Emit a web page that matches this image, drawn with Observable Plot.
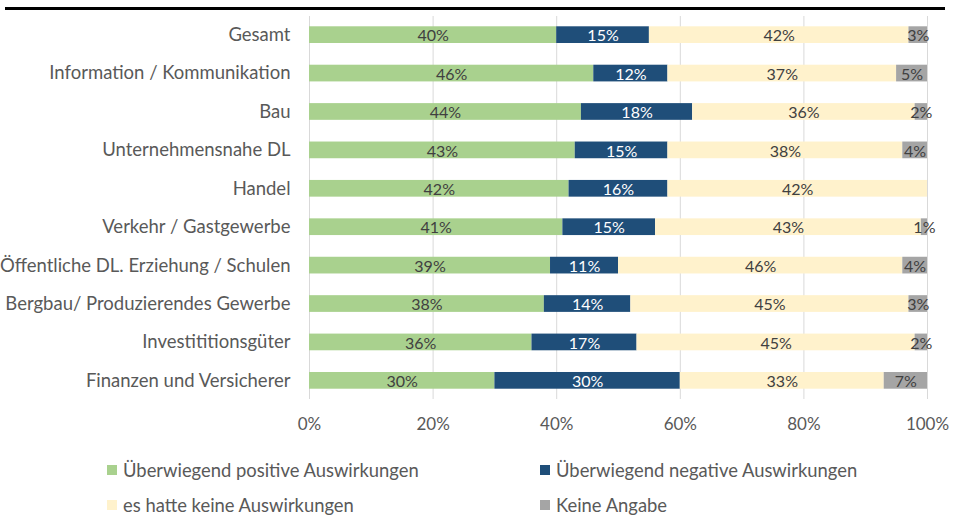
<!DOCTYPE html>
<html>
<head>
<meta charset="utf-8">
<script src="https://cdn.jsdelivr.net/npm/d3@7"></script>
<script src="https://cdn.jsdelivr.net/npm/@observablehq/plot@0.6"></script>
<style>
  body { margin: 0; background: #fff; font-family: Lato, "Noto Sans", sans-serif; }
  #wrap { position: relative; width: 955px; height: 527px; }
  #topline { position: absolute; left: 5px; top: 7px; width: 940px; height: 3px; background: #000; }
  #chart { position: absolute; left: 0; top: 0; }
  .leg { position: absolute; font-size: 18.4px; color: #595959; display: flex; align-items: center; white-space: nowrap; }
  .sw { width: 10px; height: 10px; margin-right: 6px; display: inline-block; }
</style>
</head>
<body>
<div id="wrap">
  <div id="chart"></div>
  <div id="topline"></div>
  <div id="legend"></div>
</div>
<script>
const categories = [
  "Gesamt",
  "Information / Kommunikation",
  "Bau",
  "Unternehmensnahe DL",
  "Handel",
  "Verkehr / Gastgewerbe",
  "Öffentliche DL. Erziehung / Schulen",
  "Bergbau/ Produzierendes Gewerbe",
  "Investititionsgüter",
  "Finanzen und Versicherer"
];
const seriesNames = [
  "Überwiegend positive Auswirkungen",
  "Überwiegend negative Auswirkungen",
  "es hatte keine Auswirkungen",
  "Keine Angabe"
];
const positive = [40, 46, 44, 43, 42, 41, 39, 38, 36, 30];
const negative = [15, 12, 18, 15, 16, 15, 11, 14, 17, 30];
const none     = [42, 37, 36, 38, 42, 43, 46, 45, 45, 33];
const noAnswer = [3, 5, 2, 4, 0, 1, 4, 3, 2, 7];
const colors = ["#A9D18E", "#1F4E79", "#FFF2CC", "#A5A5A5"];
const xTicks = [0, 20, 40, 60, 80, 100];

const seriesValues = [positive, negative, none, noAnswer];
const data = [];
categories.forEach((c, i) => {
  seriesNames.forEach((s, j) => {
    data.push({cat: c, series: s, value: seriesValues[j][i]});
  });
});

const stackOpts = {x: "value", y: "cat", z: "series", order: seriesNames};

const chart = Plot.plot({
  width: 955,
  height: 445,
  marginLeft: 309,
  marginRight: 28,
  marginTop: 16,
  marginBottom: 46,
  style: {fontFamily: "Lato, 'Noto Sans', sans-serif", fontSize: "18.5px", color: "#595959", background: "transparent"},
  x: {domain: [0, 100], ticks: xTicks, tickFormat: d => d + "%", tickSize: 0, tickPadding: 18, label: null, fontSize: 17},
  y: {domain: categories, paddingInner: 0.565, paddingOuter: 0.268, round: false, tickSize: 0, tickPadding: 19, label: null},
  color: {domain: seriesNames, range: colors},
  marks: [
    Plot.ruleX(xTicks, {stroke: "#D9D9D9", strokeWidth: 1}),
    Plot.barX(data, Plot.stackX({...stackOpts, fill: "series"})),
    Plot.textX(data, Plot.stackX({...stackOpts,
      text: d => (d.value > 0 && d.series !== seriesNames[1]) ? d.value + "%" : "",
      fill: "#404040", fontSize: 16, dy: 1})),
    Plot.textX(data, Plot.stackX({...stackOpts,
      text: d => (d.value > 0 && d.series === seriesNames[1]) ? d.value + "%" : "",
      fill: "#FFFFFF", fontSize: 16, dy: 1}))
  ]
});
document.getElementById("chart").appendChild(chart);
chart.querySelectorAll("[aria-label='x-axis tick label'] text, g[aria-label='x-axis tick label']").forEach(g => g.setAttribute("font-size", "17"));

const legendPos = [[107, 470], [540, 470], [107, 505], [540, 505]];
const legend = document.getElementById("legend");
seriesNames.forEach((s, i) => {
  const el = document.createElement("div");
  el.className = "leg";
  el.style.left = legendPos[i][0] + "px";
  el.style.top = (legendPos[i][1] - 12) + "px";
  el.style.height = "24px";
  el.innerHTML = `<span class="sw" style="background:${colors[i]}"></span><span>${s}</span>`;
  legend.appendChild(el);
});
</script>
</body>
</html>
